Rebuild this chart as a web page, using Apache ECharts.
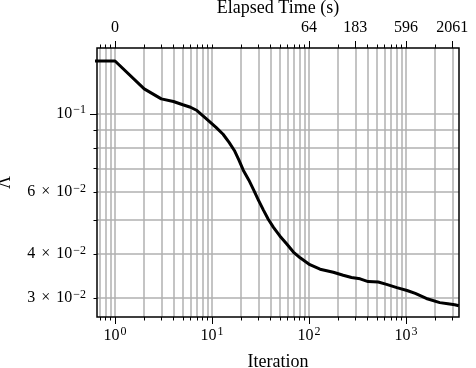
<!DOCTYPE html>
<html>
<head>
<meta charset="utf-8">
<script src="https://cdn.jsdelivr.net/npm/echarts@6/dist/echarts.min.js"></script>
<style>
  html, body { margin: 0; padding: 0; background: #fff; }
  #main { width: 476px; height: 368px; }
</style>
</head>
<body>
<div id="main"></div>
<script>
// curve (iteration -> Lambda)
const iterations = [0.5, 1, 2, 3, 4, 5, 6, 7, 9, 11, 13, 15, 17, 19, 21, 24, 27, 30, 34, 38, 43, 50, 59, 69, 81, 102, 130, 178, 225, 274, 336, 407, 518, 630, 805, 1025, 1245, 1620, 2231, 2700, 3181, 3500];
const lambdaValues = [0.1413, 0.1413, 0.1177, 0.1103, 0.1084, 0.1061, 0.1044, 0.1022, 0.0962, 0.0915, 0.0875, 0.0830, 0.0787, 0.0738, 0.0692, 0.0648, 0.0606, 0.0570, 0.0532, 0.0502, 0.0476, 0.0450, 0.0427, 0.0405, 0.0390, 0.0373, 0.0362, 0.0355, 0.0348, 0.0343, 0.0340, 0.0334, 0.0333, 0.0328, 0.0321, 0.0315, 0.0309, 0.0299, 0.0291, 0.0289, 0.0287, 0.0285];

const xMajorTicks = [1, 10, 100, 1000];
const xAllTicks = [0.7, 0.8, 0.9, 1, 2, 3, 4, 5, 6, 7, 8, 9, 10, 20, 30, 40, 50, 60, 70, 80, 90,
  100, 200, 300, 400, 500, 600, 700, 800, 900, 1000, 2000, 3000];
const topTicks = [1, 100, 300, 1000, 3000];
const topTickLabels = ['0', '64', '183', '596', '2061'];
const yMajorTicks = [0.1];
const yAllTicks = [0.03, 0.04, 0.05, 0.06, 0.07, 0.08, 0.09, 0.1];
const yLabelTicks = [0.03, 0.04, 0.06, 0.1];

const font = 'Liberation Serif';
const tickSize = 16;
const nameSize = 18;
const xMin = 0.652, xMax = 3518;
const yMin = 0.02649, yMax = 0.1538;

function near(a, b) { return Math.abs(a - b) <= Math.abs(b) * 1e-6; }

function sciLabel(v) {
  const e = Math.floor(Math.log10(v) + 1e-9);
  const m = Math.round(v / Math.pow(10, e));
  const exp = e < 0 ? '\u2212' + (-e) : String(e);
  return (m === 1 ? '' : m + '{x|\u00d7}') + '10{sup|' + exp + '}';
}

const supRich = {
  sup: { fontSize: 12, fontFamily: font, color: '#000', verticalAlign: 'top', lineHeight: 12, padding: [0, 0, 0, 1] },
  x: { fontSize: tickSize, fontFamily: font, color: '#000', padding: [0, 6, 0, 6] }
};

function tickAxis(pos, ticks, len, extra) {
  return Object.assign({
    type: 'log', logBase: 10, position: pos, gridIndex: 0,
    min: pos === 'left' ? yMin : xMin,
    max: pos === 'left' ? yMax : xMax,
    nameMoveOverlap: false,
    axisLine: { show: false },
    axisTick: { show: true, inside: false, length: len, customValues: ticks,
      lineStyle: { color: '#000', width: 1 } },
    axisLabel: { show: false },
    splitLine: { show: false },
    minorTick: { show: false },
    minorSplitLine: { show: false }
  }, extra || {});
}

const gridLine = { show: true, lineStyle: { color: '#b0b0b0', width: 1.5 } };

const myChart = echarts.init(document.getElementById('main'));
myChart.setOption({
  animation: false,
  backgroundColor: '#fff',
  grid: { left: 97, right: 17, top: 48, bottom: 51, outerBoundsMode: 'none', containLabel: false,
    show: true, borderColor: '#000', borderWidth: 1.5, backgroundColor: 'transparent', z: 3 },
  xAxis: [
    tickAxis('bottom', xMajorTicks, 7, {
      name: 'Iteration', nameLocation: 'middle', nameGap: 36,
      nameTextStyle: { fontFamily: font, fontSize: nameSize, color: '#000' },
      axisLabel: { show: true, customValues: xMajorTicks, margin: 9, fontFamily: font, fontSize: tickSize, color: '#000',
        lineHeight: 19, formatter: sciLabel, rich: supRich }
    }),
    tickAxis('bottom', xAllTicks, 3.5, { splitLine: gridLine }),
    tickAxis('top', topTicks, 7, {
      name: 'Elapsed Time (s)', nameLocation: 'middle', nameGap: 31,
      nameTextStyle: { fontFamily: font, fontSize: nameSize, color: '#000' },
      axisLabel: { show: true, customValues: topTicks, margin: 12, fontFamily: font, fontSize: tickSize, color: '#000',
        formatter: function (v) {
          const i = topTicks.findIndex(t => near(v, t));
          return i >= 0 ? topTickLabels[i] : '';
        } }
    }),
    tickAxis('top', xAllTicks, 3.5)
  ],
  yAxis: [
    tickAxis('left', yMajorTicks, 7, {
      name: '\u039b', nameLocation: 'middle', nameGap: 83, nameRotate: 90,
      nameTextStyle: { fontFamily: font, fontSize: nameSize, color: '#000' },
      axisLabel: { show: true, customValues: yLabelTicks, margin: 11, fontFamily: font, fontSize: tickSize, color: '#000',
        lineHeight: 19, formatter: sciLabel, rich: supRich }
    }),
    tickAxis('left', yAllTicks, 3.5, { splitLine: gridLine })
  ],
  series: [{
    type: 'line',
    xAxisIndex: 0,
    yAxisIndex: 0,
    data: iterations.map((it, i) => [it, lambdaValues[i]]),
    showSymbol: false,
    clip: true,
    z: 5,
    lineStyle: { color: '#000', width: 3, join: 'round' }
  }]
});
</script>
</body>
</html>
